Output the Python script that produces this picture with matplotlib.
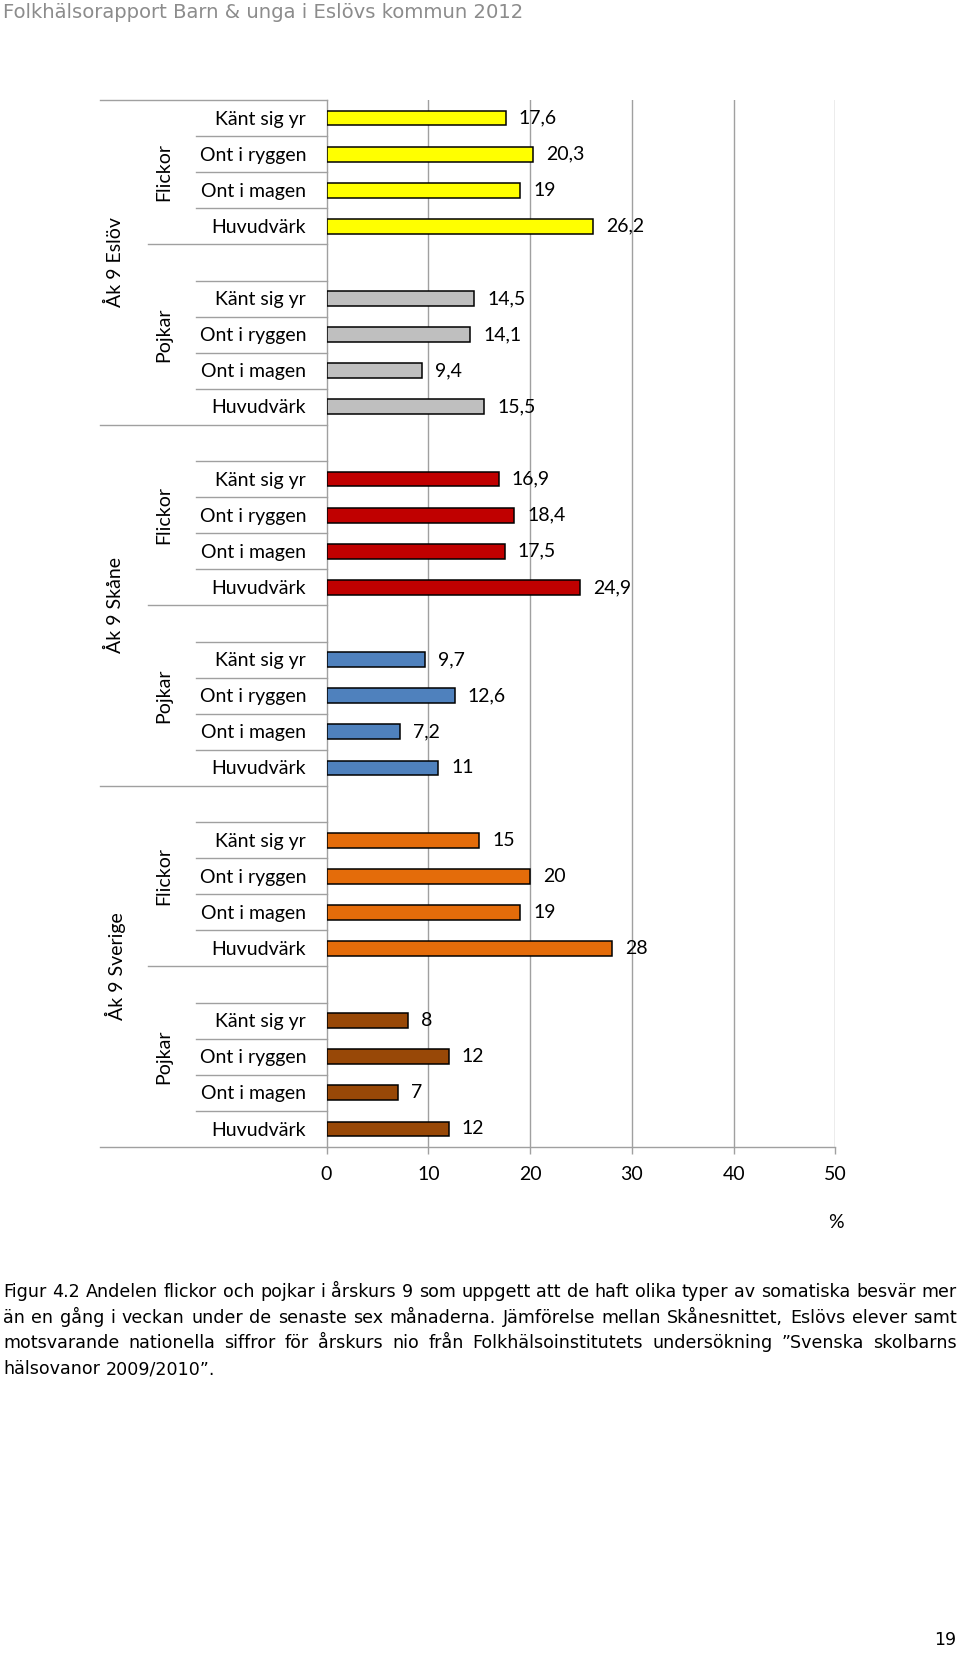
import matplotlib
matplotlib.use("Agg")
import matplotlib.pyplot as plt
from matplotlib.transforms import blended_transform_factory
from matplotlib.lines import Line2D

# ---------------- data ----------------
regions = ["Åk 9 Eslöv", "Åk 9 Skåne", "Åk 9 Sverige"]
genders = ["Flickor", "Pojkar"]
symptoms = ["Känt sig yr", "Ont i ryggen", "Ont i magen", "Huvudvärk"]

eslov_flickor = [17.6, 20.3, 19, 26.2]
eslov_pojkar = [14.5, 14.1, 9.4, 15.5]
skane_flickor = [16.9, 18.4, 17.5, 24.9]
skane_pojkar = [9.7, 12.6, 7.2, 11]
sverige_flickor = [15, 20, 19, 28]
sverige_pojkar = [8, 12, 7, 12]

series_values = [
    [eslov_flickor, eslov_pojkar],
    [skane_flickor, skane_pojkar],
    [sverige_flickor, sverige_pojkar],
]
series_colors = [
    ["#FFFF00", "#BFBFBF"],
    ["#C00000", "#4F81BD"],
    ["#E46C0A", "#984807"],
]
xticks = [0, 10, 20, 30, 40, 50]

header = "Folkhälsorapport Barn & unga i Eslövs kommun 2012"
caption_lines = [
    "Figur 4.2 Andelen flickor och pojkar i årskurs 9 som uppgett att de haft olika typer av somatiska besvär mer",
    "än en gång i veckan under de senaste sex månaderna. Jämförelse mellan Skånesnittet, Eslövs elever samt",
    "motsvarande nationella siffror för årskurs nio från Folkhälsoinstitutets undersökning ”Svenska skolbarns",
    "hälsovanor 2009/2010”.",
]
page_number = "19"

# ---------------- layout ----------------
W, H = 960, 1653
fig = plt.figure(figsize=(W / 100, H / 100), dpi=100)
fig.patch.set_facecolor("white")
renderer = fig.canvas.get_renderer()

def fx(px):
    return px / W

def fy(py):
    return 1 - py / H

X0, X50 = 326.5, 835.5
TOP, BOT = 100, 1147
ax = fig.add_axes([fx(X0), fy(BOT), (X50 - X0) / W, (BOT - TOP) / H])

LABEL_FONT = "Lato"
FS = 14
GRID = "#A0A0A0"

# Build rows: Eslöv flickor has no leading blank; every other group has one
rows = []  # (region_idx, gender_idx, symptom_idx or None)
for r in range(len(regions)):
    for g in range(len(genders)):
        if not (r == 0 and g == 0):
            rows.append((r, g, None))
        for s in range(len(symptoms)):
            rows.append((r, g, s))
n = len(rows)

ax.set_ylim(n - 0.5, -0.5)
ax.set_xlim(0, 50)

# gridlines
for xv in xticks[1:]:
    ax.axvline(xv, color=GRID, lw=1.0, zorder=0)

# bars
for i, (r, g, s) in enumerate(rows):
    if s is None:
        continue
    v = series_values[r][g][s]
    ax.barh(i, v, height=0.41, color=series_colors[r][g], edgecolor="black",
            linewidth=1.1, zorder=3)
    lab = ("%g" % v).replace(".", ",")
    ax.annotate(lab, xy=(v, i), xytext=(9.5, 0), textcoords="offset points",
                ha="left", va="center", fontsize=FS, family=LABEL_FONT,
                color="black")

# axes styling
for sp in ["top", "right"]:
    ax.spines[sp].set_visible(False)
ax.spines["left"].set_color(GRID)
ax.spines["bottom"].set_color(GRID)
ax.spines["left"].set_linewidth(1.0)
ax.spines["bottom"].set_linewidth(1.0)
ax.set_yticks([])
ax.set_xticks(xticks)
ax.set_xticklabels([str(t) for t in xticks], fontsize=FS, family=LABEL_FONT)
ax.tick_params(axis="x", length=5, width=1.0, color=GRID, pad=9)
ax.set_facecolor("none")

# category label table
trans = blended_transform_factory(fig.transFigure, ax.transData)
L1, L2, L3 = 100, 148, 196
for i, (r, g, s) in enumerate(rows):
    if s is not None:
        t = fig.text(fx(306), 0, symptoms[s], transform=trans, ha="right",
                     va="center", fontsize=FS, family=LABEL_FONT)
        t.set_position((fx(306), i + 0.03))

def hline(y, xstart):
    fig.add_artist(Line2D([fx(xstart), fx(X0)], [y, y], transform=trans,
                          color=GRID, lw=1.0, clip_on=False))

for b in range(n + 1):
    y = b - 0.5
    if b == 0 or b == n:
        hline(y, L1)
        continue
    prev, nxt = rows[b - 1], rows[b]
    if prev[0] != nxt[0]:
        hline(y, L1)
    elif prev[1] != nxt[1]:
        hline(y, L2)
    else:
        hline(y, L3)

# rotated group labels
for r in range(len(regions)):
    idx = [i for i, row in enumerate(rows) if row[0] == r]
    t = fig.text(fx(115), 0, regions[r], rotation=90, ha="center", va="center",
                 fontsize=FS, family=LABEL_FONT, transform=trans)
    t.set_position((fx(115), (idx[0] + idx[-1]) / 2))
    for g in range(len(genders)):
        idg = [i for i, row in enumerate(rows) if row[0] == r and row[1] == g]
        t = fig.text(fx(164), 0, genders[g], rotation=90, ha="center",
                     va="center", fontsize=FS, family=LABEL_FONT, transform=trans)
        t.set_position((fx(164), (idg[0] + idg[-1]) / 2))

# percent sign
fig.text(fx(836), fy(1223), "%", ha="center", va="center", fontsize=FS,
         family=LABEL_FONT)

# header
fig.text(fx(3), fy(17.5), header, ha="left", va="baseline", fontsize=14.1,
         color="#8C8C8C", family="DejaVu Sans")

# caption, justified; font size fitted so line 1 fills the width naturally
left_px, right_px = 3, 957
probe = fig.text(0, 0, caption_lines[0], fontsize=10, family="DejaVu Sans")
w10 = probe.get_window_extent(renderer).width
probe.remove()
CAP_FS = 10 * (right_px - left_px - 4) / w10

line_y = [1297, 1323, 1348.5, 1374]
sp1 = fig.text(0, 0, "a a", fontsize=CAP_FS, family="DejaVu Sans")
sp2 = fig.text(0, 0, "aa", fontsize=CAP_FS, family="DejaVu Sans")
normal_gap = sp1.get_window_extent(renderer).width - sp2.get_window_extent(renderer).width
sp1.remove()
sp2.remove()
for li, line in enumerate(caption_lines):
    words = line.split(" ")
    ts = [fig.text(0, fy(line_y[li]), w, ha="left", va="baseline",
                   fontsize=CAP_FS, family="DejaVu Sans", color="black")
          for w in words]
    widths = [t.get_window_extent(renderer).width for t in ts]
    if li < len(caption_lines) - 1 and len(words) > 1:
        gap = (right_px - left_px - sum(widths)) / (len(words) - 1)
    else:
        gap = normal_gap
    x = left_px
    for t, w in zip(ts, widths):
        t.set_x(fx(x))
        x += w + gap

# page number
fig.text(fx(945), fy(1645), page_number, ha="center", va="baseline",
         fontsize=12.5, family="DejaVu Sans")

fig.savefig("out.png", dpi=100)
